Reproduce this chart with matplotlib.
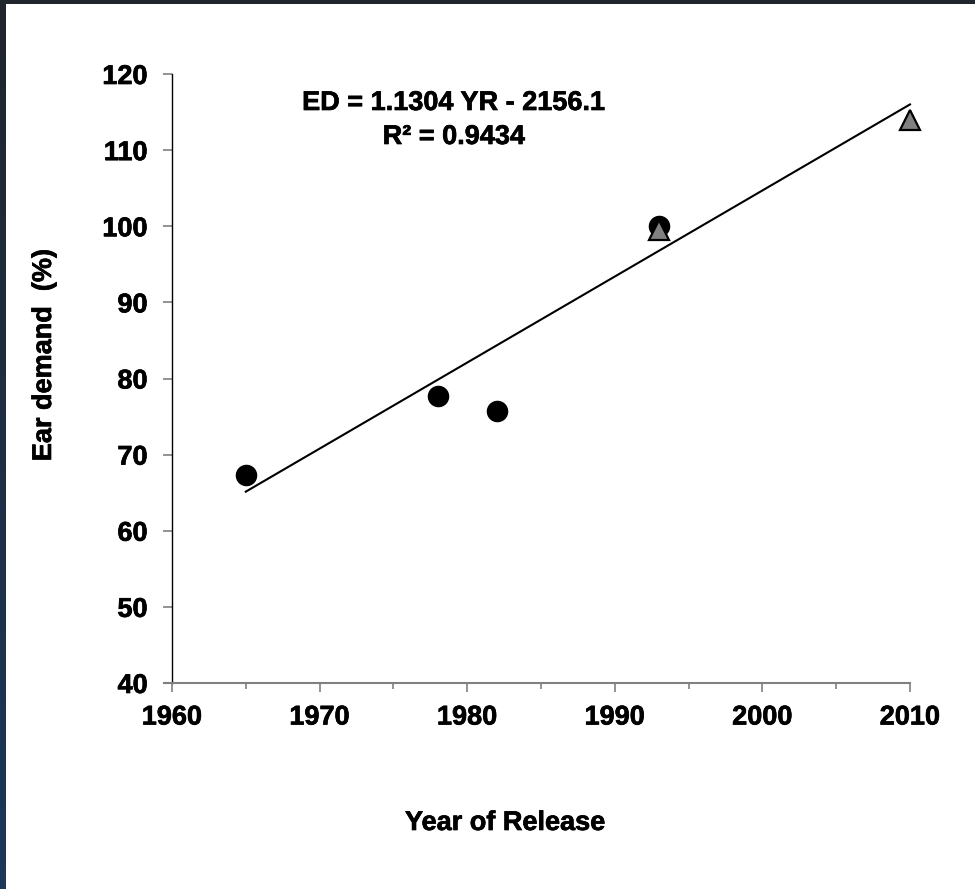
import numpy as np
import matplotlib
matplotlib.use("Agg")
import matplotlib.pyplot as plt
import matplotlib.patheffects as pe

plt.rcParams["font.family"] = ["Liberation Sans", "DejaVu Sans"]
plt.rcParams["font.weight"] = "bold"

# Ear demand by year of cultivar release
circle_years = [1965, 1978, 1982, 1993]
circle_demand = [67.3, 77.7, 75.7, 100.0]
triangle_years = [1993, 2010]
triangle_demand = [99.5, 114.0]

# linear fit: ED = slope * YR + intercept
slope = 1.1304
intercept = -2156.1
r_squared = 0.9434
fit_years = [1965, 2010]

W, H = 975, 889
fig = plt.figure(figsize=(W / 100, H / 100), dpi=100, facecolor="white")

# dark frame along the top and left edges
top_bar = plt.Rectangle((0, 1 - 4 / H), 1, 4 / H, transform=fig.transFigure,
                        facecolor="#21252c", edgecolor="none", zorder=0)
fig.patches.append(top_bar)
edge_ax = fig.add_axes([0, 0, 6 / W, 1])
grad = np.linspace(0, 1, 256)[:, None, None]
top_col = np.array([0x21, 0x25, 0x2c]) / 255
bot_col = np.array([0x1b, 0x38, 0x5a]) / 255
edge_ax.imshow(top_col * (1 - grad) + bot_col * grad, aspect="auto")
edge_ax.axis("off")

ax = fig.add_axes([172 / W, 1 - 683 / H, (910 - 172) / W, (683 - 74) / H])

fit_demand = [slope * y + intercept for y in fit_years]
ax.plot(fit_years, fit_demand, color="black", lw=1.5, zorder=2, clip_on=False)
ax.plot(circle_years, circle_demand, "o", ms=14.5, color="black", zorder=3,
        clip_on=False)
ax.plot(triangle_years, triangle_demand, "^", ms=14.5, markerfacecolor="#808080",
        markeredgecolor="black", markeredgewidth=1.6, zorder=4, clip_on=False)

ax.set_xlim(1960, 2010)
ax.set_ylim(40, 120)
ax.set_xticks(range(1960, 2011, 10))
ax.set_xticks(range(1965, 2010, 10), minor=True)
ax.set_yticks(range(40, 121, 10))

for side in ("top", "right"):
    ax.spines[side].set_visible(False)
ax.spines["left"].set_color("black")
ax.spines["left"].set_linewidth(1.0)
ax.spines["bottom"].set_color("#808080")
ax.spines["bottom"].set_linewidth(1.5)
ax.spines["bottom"].set_bounds(1959.45, 2010)

ax.tick_params(axis="both", which="major", direction="out", length=6.5, width=1.2,
               color="#808080", labelsize=19.5)
ax.tick_params(axis="x", which="minor", direction="out", length=4.5, width=1.2,
               color="#808080")
ax.tick_params(axis="x", which="major", pad=9)
ax.tick_params(axis="y", which="major", pad=11)

heavy = [pe.withStroke(linewidth=0.5, foreground="black")]
for lbl in ax.get_xticklabels() + ax.get_yticklabels():
    lbl.set_fontweight("bold")
    lbl.set_path_effects(heavy)

ax.text(454 / W, 1 - 103 / H, f"ED = {slope:.4f} YR - {abs(intercept):.1f}",
        transform=fig.transFigure, ha="center", va="center", fontsize=19.5,
        fontweight="bold", path_effects=heavy)
ax.text(454 / W, 1 - 137 / H, f"R² = {r_squared:.4f}",
        transform=fig.transFigure, ha="center", va="center", fontsize=19.5,
        fontweight="bold", path_effects=heavy)

fig.text(505 / W, 1 - 823 / H, "Year of Release", ha="center", va="center",
         fontsize=19.5, fontweight="bold", path_effects=heavy)
fig.text(44 / W, 1 - 355 / H, "Ear demand  (%)", ha="center", va="center",
         rotation=90, fontsize=19.5, fontweight="bold", path_effects=heavy)

fig.savefig("out.png", dpi=100, facecolor="white")
